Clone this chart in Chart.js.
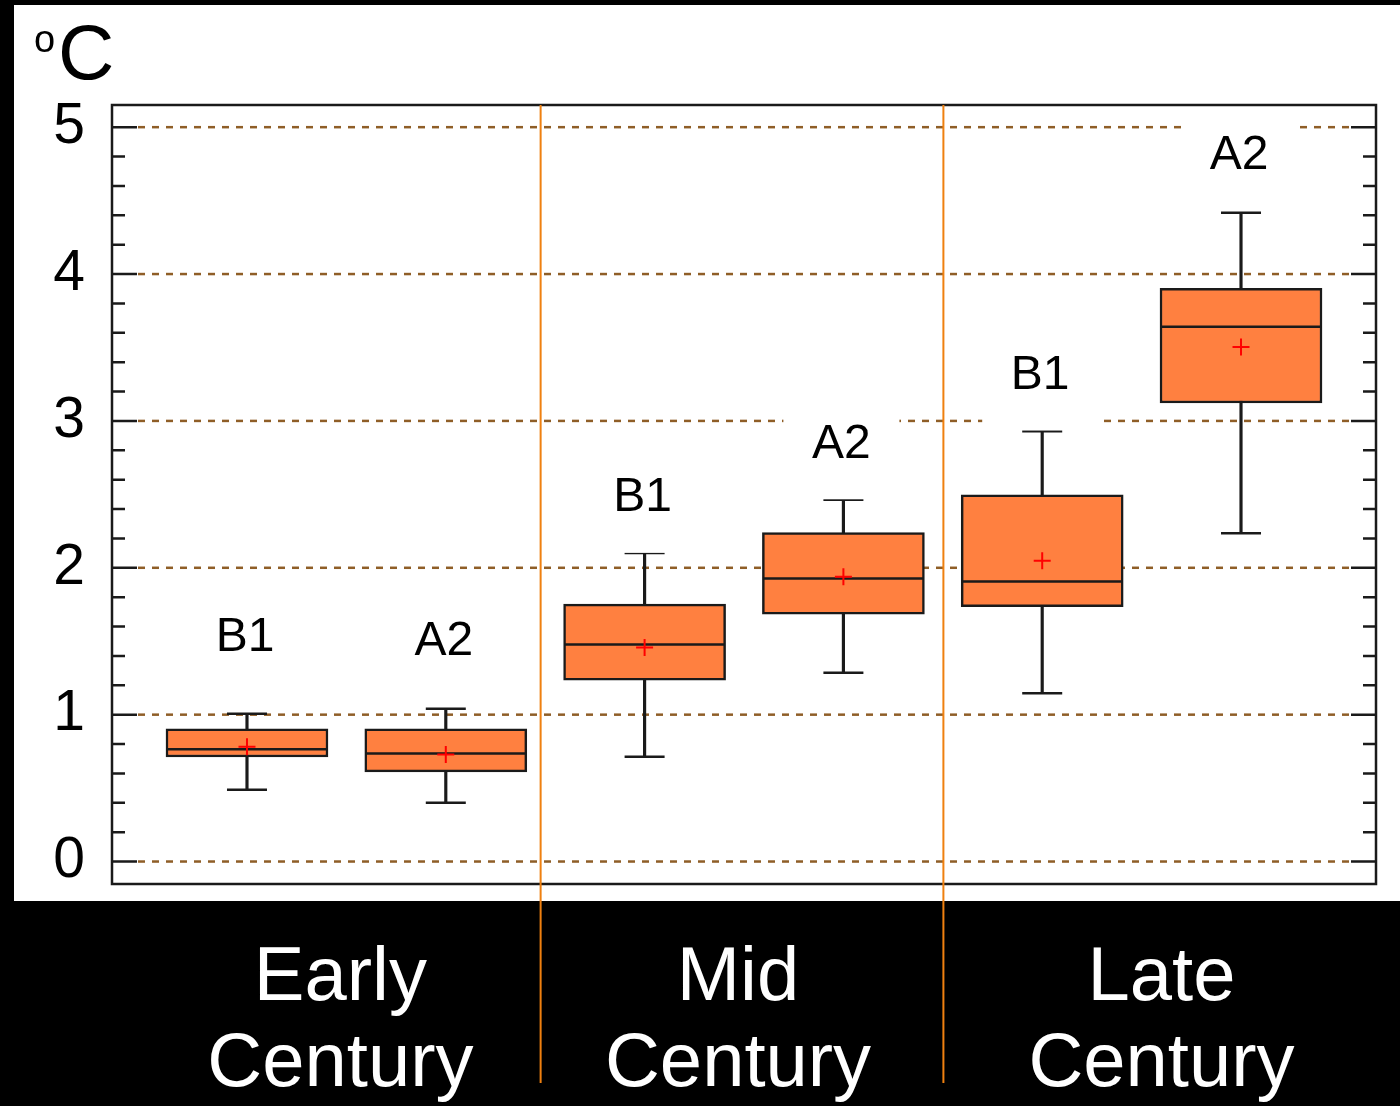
<!DOCTYPE html>
<html>
<head>
<meta charset="utf-8">
<script src="https://cdn.jsdelivr.net/npm/chart.js@4.4.0/dist/chart.umd.min.js"></script>
<style>
  html, body { margin: 0; padding: 0; background: #000; }
  #wrap { width: 1400px; height: 1106px; }
</style>
</head>
<body>
<div id="wrap"><canvas id="boxChart" width="1400" height="1106"></canvas></div>
<script>
// Box positions (one per scenario) and labels
const positions = [0, 1, 2, 3, 4, 5];
const scenarios = ['B1', 'A2', 'B1', 'A2', 'B1', 'A2'];
const periods = [['Early', 'Century'], ['Mid', 'Century'], ['Late', 'Century']];
const periodCenters = [0.47, 2.47, 4.6];
const periodBreaks = [1.477, 3.503];

// Temperature change (°C)
const whiskerLow  = [0.489, 0.401, 0.714, 1.286, 1.146, 2.236];
const q1          = [0.712, 0.610, 1.235, 1.684, 1.736, 3.122];
const median      = [0.765, 0.735, 1.477, 1.927, 1.907, 3.642];
const q3          = [0.903, 0.903, 1.753, 2.240, 2.497, 3.903];
const whiskerHigh = [1.007, 1.041, 2.100, 2.463, 2.929, 4.417];
const mean        = [0.782, 0.729, 1.457, 1.939, 2.048, 3.504];
const labelY      = [1.436, 1.407, 2.384, 2.749, 3.217, 4.712];

const yTicks = [0, 1, 2, 3, 4, 5];
const yMinor = [0.2, 0.4, 0.6, 0.8, 1.2, 1.4, 1.6, 1.8, 2.2, 2.4, 2.6, 2.8,
                3.2, 3.4, 3.6, 3.8, 4.2, 4.4, 4.6, 4.8];

const FONT = "'Liberation Sans', Arial, sans-serif";

const backdrop = {
    id: 'backdrop',
    beforeDraw(chart) {
        const ctx = chart.ctx;
        ctx.save();
        ctx.fillStyle = '#000';
        ctx.fillRect(0, 0, chart.width, chart.height);
        ctx.fillStyle = '#fff';
        ctx.fillRect(14, 5, chart.width - 14, 896);
        ctx.restore();
    }
};

const frameAndGrid = {
    id: 'frameAndGrid',
    beforeDatasetsDraw(chart) {
        const ctx = chart.ctx;
        const area = chart.chartArea;
        const y = chart.scales.y;
        ctx.save();
        // dashed grid at integer values
        ctx.strokeStyle = '#8f5e27';
        ctx.lineWidth = 2.5;
        ctx.setLineDash([7, 7]);
        yTicks.forEach(v => {
            const py = y.getPixelForValue(v);
            ctx.beginPath();
            ctx.moveTo(area.left + 26, py);
            ctx.lineTo(area.right - 25, py);
            ctx.stroke();
        });
        ctx.setLineDash([]);
        // ticks on both sides
        ctx.strokeStyle = '#1a1a1a';
        ctx.lineWidth = 2.5;
        const tick = (v, len) => {
            const py = y.getPixelForValue(v);
            ctx.beginPath();
            ctx.moveTo(area.left, py);
            ctx.lineTo(area.left + len, py);
            ctx.moveTo(area.right, py);
            ctx.lineTo(area.right - len, py);
            ctx.stroke();
        };
        yTicks.forEach(v => tick(v, 25));
        yMinor.forEach(v => tick(v, 13));
        // frame
        ctx.strokeRect(area.left, area.top, area.right - area.left, area.bottom - area.top);
        ctx.restore();
    }
};

const annotations = {
    id: 'annotations',
    afterDatasetsDraw(chart) {
        const ctx = chart.ctx;
        const area = chart.chartArea;
        const x = chart.scales.x;
        const y = chart.scales.y;
        ctx.save();
        // scenario labels with white boxes behind them
        ctx.font = '48px ' + FONT;
        ctx.textAlign = 'center';
        ctx.textBaseline = 'alphabetic';
        scenarios.forEach((s, i) => {
            const px = x.getPixelForValue(positions[i]) - 2;
            const py = y.getPixelForValue(labelY[i]);
            ctx.fillStyle = '#fff';
            ctx.fillRect(px - 58, py - 45, 116, 86.5);
            ctx.fillStyle = '#000';
            ctx.fillText(s, px, py);
        });
        // orange period separators
        ctx.strokeStyle = '#ef8010';
        ctx.lineWidth = 2;
        periodBreaks.forEach(b => {
            const px = x.getPixelForValue(b);
            ctx.beginPath();
            ctx.moveTo(px, area.top);
            ctx.lineTo(px, area.bottom + 199);
            ctx.stroke();
        });
        // unit label
        ctx.fillStyle = '#000';
        ctx.textAlign = 'left';
        ctx.font = '38px ' + FONT;
        ctx.fillText('o', 34, 52);
        ctx.font = '78px ' + FONT;
        ctx.fillText('C', 58, 79);
        ctx.restore();
    }
};

const ctx = document.getElementById('boxChart').getContext('2d');
new Chart(ctx, {
    type: 'bar',
    data: {
        datasets: [
            {
                label: 'whiskers',
                data: positions.map((p, i) => ({ x: p, y: [whiskerLow[i], whiskerHigh[i]] })),
                backgroundColor: '#1a1a1a',
                borderWidth: 0,
                barThickness: 2.5,
                grouped: false,
                order: 5
            },
            {
                label: 'boxes',
                data: positions.map((p, i) => ({ x: p, y: [q1[i], q3[i]] })),
                backgroundColor: '#ff8040',
                borderColor: '#1a1a1a',
                borderWidth: 2.5,
                borderSkipped: false,
                barThickness: 162,
                grouped: false,
                order: 4
            },
            {
                type: 'scatter',
                label: 'caps',
                data: positions.flatMap((p, i) => [{ x: p, y: whiskerLow[i] }, { x: p, y: whiskerHigh[i] }]),
                pointStyle: 'line',
                radius: 20,
                borderColor: '#1a1a1a',
                borderWidth: 2.5,
                order: 3
            },
            {
                type: 'scatter',
                label: 'median',
                data: positions.map((p, i) => ({ x: p, y: median[i] })),
                pointStyle: 'line',
                radius: 80,
                borderColor: '#1a1a1a',
                borderWidth: 2.5,
                order: 2
            },
            {
                type: 'scatter',
                label: 'mean',
                data: positions.map((p, i) => ({ x: p, y: mean[i] })),
                pointStyle: 'cross',
                radius: 8.5,
                borderColor: '#ff0000',
                borderWidth: 2,
                order: 1
            }
        ]
    },
    options: {
        responsive: false,
        animation: false,
        events: [],
        layout: { autoPadding: false, padding: { top: 105, right: 24, bottom: 0, left: 0 } },
        plugins: { legend: { display: false }, tooltip: { enabled: false } },
        scales: {
            x: {
                type: 'linear',
                offset: false,
                min: -0.679,
                max: 5.679,
                grid: { display: false, drawTicks: false },
                border: { display: false },
                afterBuildTicks: scale => { scale.ticks = periodCenters.map(v => ({ value: v })); },
                afterFit: scale => {
                    scale.height = 222;
                    scale.paddingLeft = 0;
                    scale.paddingRight = 0;
                },
                ticks: {
                    autoSkip: false,
                    maxRotation: 0,
                    padding: 52,
                    color: '#fff',
                    font: { family: FONT, size: 76, lineHeight: 1.13 },
                    callback: (value, index) => periods[index]
                }
            },
            y: {
                min: -0.153,
                max: 5.151,
                grid: { display: false, drawTicks: false },
                border: { display: false },
                afterBuildTicks: scale => { scale.ticks = yTicks.map(v => ({ value: v })); },
                afterFit: scale => { scale.width = 112; },
                ticks: {
                    padding: 27,
                    color: '#000',
                    font: { family: FONT, size: 57 }
                }
            }
        }
    },
    plugins: [backdrop, frameAndGrid, annotations]
});
</script>
</body>
</html>
